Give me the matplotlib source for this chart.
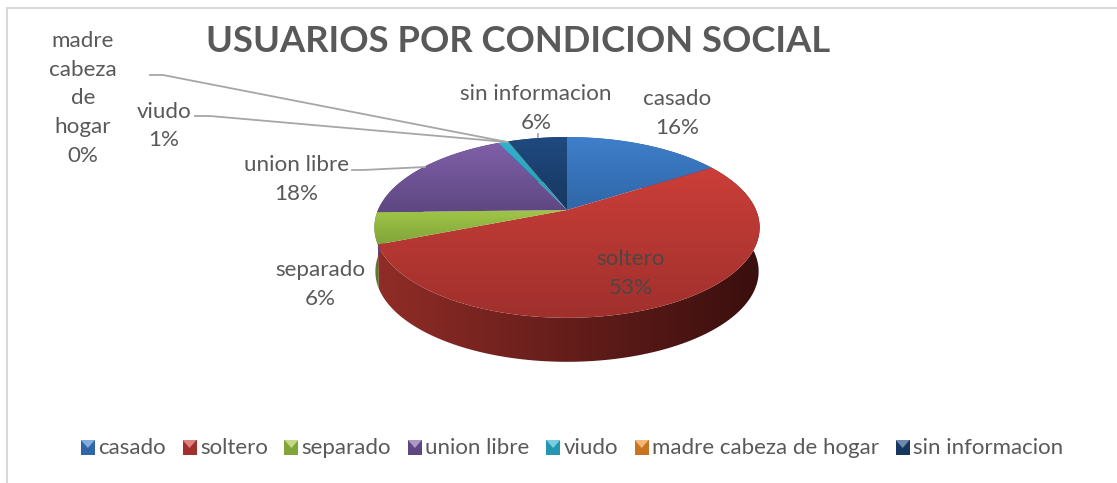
import numpy as np
import matplotlib
matplotlib.use("Agg")
import matplotlib.pyplot as plt
from matplotlib.patches import Polygon, Rectangle
from matplotlib.legend_handler import HandlerBase
from matplotlib.colors import LinearSegmentedColormap, to_rgb

plt.rcParams['font.family'] = ['Lato', 'DejaVu Sans']

categorias = ['casado', 'soltero', 'separado', 'union libre', 'viudo',
              'madre cabeza de hogar', 'sin informacion']
valores = [16, 53, 5.6, 18.4, 1, 0.05, 5.95]
porcentajes = ['16%', '53%', '6%', '18%', '1%', '0%', '6%']

# color arriba / abajo de cada porcion
arriba = ['#3f7fca', '#cb3e39', '#a0c648', '#8060a8', '#2fb3d0', '#f09030', '#1f4a80']
abajo = ['#2f66a8', '#a0302c', '#82a53a', '#5e4782', '#2596ae', '#c87420', '#173760']
pared_izq = ['#2f66a8', '#8f2c27', '#6f8f30', '#5e4782', '#2596ae', '#c87420', '#173760']
pared_der = ['#1f4a80', '#3a0f0e', '#4f6a20', '#3e2f58', '#186a80', '#905010', '#0f2540']

gris = '#595959'
W, H = 1117, 483
cx, cy = 567, 210
B, A, k = 189, 87, 0.193
prof = 44


def proyectar(t, dz=0):
    # t en radianes, horario desde arriba; perspectiva del disco
    X, Y = np.sin(t), np.cos(t)
    w = 1 + k*Y
    return cx + B*X/w, cy - A*Y/w + dz


def degradado(ax, poly, c1, c2, vertical=True):
    cmap = LinearSegmentedColormap.from_list('g', [c1, c2])
    xy = poly.get_xy()
    x0, x1, y0, y1 = xy[:, 0].min(), xy[:, 0].max(), xy[:, 1].min(), xy[:, 1].max()
    g = np.linspace(0, 1, 64)
    g = g.reshape(-1, 1) if vertical else g.reshape(1, -1)
    im = ax.imshow(g, cmap=cmap, extent=(x0, x1, y1, y0), aspect='auto', zorder=poly.get_zorder(),
                   interpolation='bilinear')
    ax.add_patch(poly)
    poly.set_visible(False)
    im.set_clip_path(poly)


class HandlerBisel(HandlerBase):
    def create_artists(self, legend, orig, xd, yd, w, h, fs, trans):
        a = Rectangle((xd, yd), w, h, facecolor=orig.get_facecolor(), edgecolor='none', transform=trans)
        claro = 0.65*np.array(to_rgb(orig.get_edgecolor()[:3])) + 0.35
        t = Polygon([(xd, yd+h), (xd+w, yd+h), (xd+w/2, yd+h*0.45)], facecolor=claro,
                    edgecolor='none', transform=trans)
        return [a, t]


fig = plt.figure(figsize=(W/100, H/100), dpi=100)
ax = fig.add_axes([0, 0, 1, 1])
ax.set_xlim(0, W)
ax.set_ylim(H, 0)
ax.axis('off')

ax.add_patch(Rectangle((7, 8), W, H, facecolor='white', edgecolor='#d9d9d9', lw=1.5, zorder=0))

frac = np.array(valores) / sum(valores)
cortes = np.concatenate([[0], np.cumsum(frac)]) * 2*np.pi

# pared lateral
for i in range(len(valores)):
    t = np.linspace(cortes[i], cortes[i+1], 200)
    x, y = proyectar(t)
    x2, y2 = proyectar(t, prof)
    x2 = cx + (x2 - cx)*0.995
    xy = np.column_stack([np.r_[x, x2[::-1]], np.r_[y, y2[::-1]]])
    degradado(ax, Polygon(xy, zorder=2), pared_izq[i], pared_der[i], vertical=False)

# cara superior
for i in range(len(valores)):
    t = np.linspace(cortes[i], cortes[i+1], 200)
    x, y = proyectar(t)
    xy = np.column_stack([np.r_[cx, x], np.r_[cy, y]])
    degradado(ax, Polygon(xy, zorder=3), arriba[i], abajo[i])

# textos y lineas guia
fs = 16.1
txt = dict(ha='center', va='center', color=gris, fontsize=fs, linespacing=1.55, zorder=6)
ax.text(518, 41, 'USUARIOS POR CONDICION SOCIAL', ha='center', va='center', color=gris,
        fontsize=26.2, fontweight='bold', zorder=6)
ax.text(677, 113.5, f'{categorias[0]}\n{porcentajes[0]}', **txt)
ax.text(631, 273.5, f'{categorias[1]}\n{porcentajes[1]}', **{**txt, 'color': '#4f4545'})
ax.text(320, 284.5, f'{categorias[2]}\n{porcentajes[2]}', **txt)
ax.text(296, 179.5, f'{categorias[3]}\n{porcentajes[3]}', **txt)
ax.text(164, 126, f'{categorias[4]}\n{porcentajes[4]}', **txt)
ax.text(83, 98.5, 'madre\ncabeza\nde\nhogar\n' + porcentajes[5], **txt)
ax.text(536, 108.5, f'{categorias[6]}\n{porcentajes[6]}', **txt)

guia = dict(color='#a6a6a6', lw=1.3, zorder=5)
ax.plot([150, 163, 507], [75, 75, 142], **guia)
ax.plot([195, 210, 507], [116, 116, 142], **guia)
ax.plot([352, 363, 425], [170, 170, 167], **guia)
ax.plot([538, 538], [134, 137], **guia)

handles = [Rectangle((0, 0), 1, 1, facecolor=abajo[i], edgecolor=arriba[i]) for i in range(len(categorias))]
fig.legend(handles, categorias, loc='center', bbox_to_anchor=(572/W, 1 - 448/H), ncol=7, frameon=False,
           fontsize=16, labelcolor=gris, handler_map={Rectangle: HandlerBisel()},
           handlelength=0.63, handleheight=0.63, handletextpad=0.15, columnspacing=0.75, borderpad=0)

fig.savefig('out.png', dpi=100)
